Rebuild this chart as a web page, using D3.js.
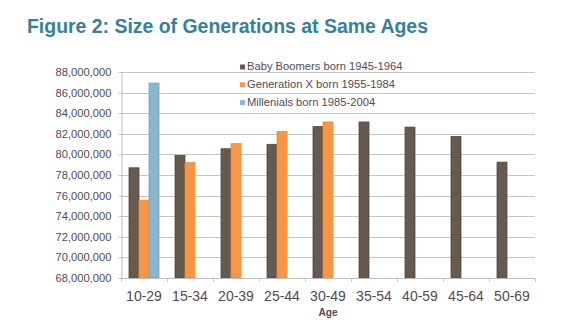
<!DOCTYPE html>
<html>
<head>
<meta charset="utf-8">
<script src="https://cdn.jsdelivr.net/npm/d3@7"></script>
<style>
  body { margin: 0; background: #fff; }
  svg { display: block; font-family: "Liberation Sans", Arial, sans-serif; }
</style>
</head>
<body>
<svg width="576" height="326"></svg>
<script>
// chart data
const ageGroups = ["10-29", "15-34", "20-39", "25-44", "30-49", "35-54", "40-59", "45-64", "50-69"];
const seriesNames = ["Baby Boomers born 1945-1964", "Generation X born 1955-1984", "Millenials born 1985-2004"];
const boomers = [78700000, 79900000, 80550000, 80980000, 82700000, 83150000, 82650000, 81750000, 79250000];
const genX = [75550000, 79200000, 81050000, 82230000, 83150000, null, null, null, null];
const millennials = [86930000, null, null, null, null, null, null, null, null];
const yTicks = [68000000, 70000000, 72000000, 74000000, 76000000, 78000000, 80000000, 82000000, 84000000, 86000000, 88000000];

const colors = ["#665a4f", "#f79646", "#88b7cb"];
const strokes = ["#54483e", "#f28a35", "#74a6bc"];
const textColor = "#554a50";

let svg = d3.select("svg");

let margin = { left: 121, right: 41, top: 72, bottom: 48 };
let width = 576, height = 326;

let x0 = d3.scaleBand()
    .domain(ageGroups)
    .range([margin.left, width - margin.right])
    .padding(0);

let x1 = d3.scaleBand()
    .domain(seriesNames)
    .range([8, x0.bandwidth() - 8])
    .padding(0);

let y = d3.scaleLinear()
    .domain([68000000, 88000000])
    .range([height - margin.bottom, margin.top]);

// title
svg.append("text")
    .attr("x", 27)
    .attr("y", 33)
    .attr("fill", "#3a7e9e")
    .attr("font-weight", "bold")
    .attr("font-size", 20)
    .attr("textLength", 401)
    .attr("lengthAdjust", "spacingAndGlyphs")
    .text("Figure 2: Size of Generations at Same Ages");

// gridlines
svg.append("g")
    .selectAll("line")
    .data(yTicks)
    .enter().append("line")
    .attr("x1", margin.left)
    .attr("x2", width - margin.right)
    .attr("y1", d => Math.round(y(d)) + 0.5)
    .attr("y2", d => Math.round(y(d)) + 0.5)
    .attr("stroke", "#c6c6c6")
    .attr("stroke-width", 1);

// y axis
let yAxis = svg.append("g")
    .attr("transform", `translate(${margin.left + 0.5},0)`)
    .call(d3.axisLeft(y).tickValues(yTicks).tickFormat(d3.format(",")).tickSize(3).tickSizeOuter(0));

yAxis.select(".domain").attr("stroke", "#bdbdbd");
yAxis.selectAll(".tick line").attr("stroke", "#bdbdbd");
yAxis.selectAll(".tick text")
    .attr("x", -10)
    .attr("fill", textColor)
    .attr("font-size", 11.2)
    .attr("font-family", "Liberation Sans, Arial, sans-serif");

// bars
let allSeries = [boomers, genX, millennials];
let barData = [];
allSeries.forEach((vals, i) => {
    vals.forEach((v, j) => {
        if (v !== null) barData.push({ series: seriesNames[i], idx: i, age: ageGroups[j], value: v });
    });
});

svg.append("g")
    .selectAll("rect")
    .data(barData)
    .enter().append("rect")
    .attr("x", d => x0(d.age) + x1(d.series))
    .attr("y", d => y(d.value))
    .attr("width", x1.bandwidth())
    .attr("height", d => y(68000000) - y(d.value))
    .attr("fill", d => colors[d.idx])
    .attr("stroke", d => strokes[d.idx])
    .attr("stroke-width", 0.8);

// x axis
let xAxisY = y(68000000);
let xAxis = svg.append("g")
    .attr("transform", `translate(0,${Math.round(xAxisY) + 0.5})`);

xAxis.append("line")
    .attr("x1", margin.left)
    .attr("x2", width - margin.right)
    .attr("stroke", "#bdbdbd");

let boundaries = ageGroups.map(d => x0(d)).concat([width - margin.right]);
xAxis.selectAll("line.tick")
    .data(boundaries)
    .enter().append("line")
    .attr("class", "tick")
    .attr("x1", d => Math.round(d) + 0.5)
    .attr("x2", d => Math.round(d) + 0.5)
    .attr("y1", 0)
    .attr("y2", 3)
    .attr("stroke", "#bdbdbd");

xAxis.selectAll("text")
    .data(ageGroups)
    .enter().append("text")
    .attr("x", d => x0(d) + x0.bandwidth() / 2)
    .attr("y", 22)
    .attr("text-anchor", "middle")
    .attr("fill", textColor)
    .attr("font-size", 14)
    .text(d => d);

svg.append("text")
    .attr("x", (margin.left + width - margin.right) / 2)
    .attr("y", 316)
    .attr("text-anchor", "middle")
    .attr("fill", textColor)
    .attr("font-weight", "bold")
    .attr("font-size", 10.2)
    .text("Age");

// legend
let legend = svg.append("g")
    .selectAll("g")
    .data(seriesNames)
    .enter().append("g")
    .attr("transform", (d, i) => `translate(240,${70 + i * 17.8})`);

legend.append("rect")
    .attr("x", 0)
    .attr("y", -5.5)
    .attr("width", 5)
    .attr("height", 5)
    .attr("fill", (d, i) => colors[i]);

legend.append("text")
    .attr("x", 7)
    .attr("y", 0)
    .attr("fill", textColor)
    .attr("font-size", 11.2)
    .text(d => d);
</script>
</body>
</html>
